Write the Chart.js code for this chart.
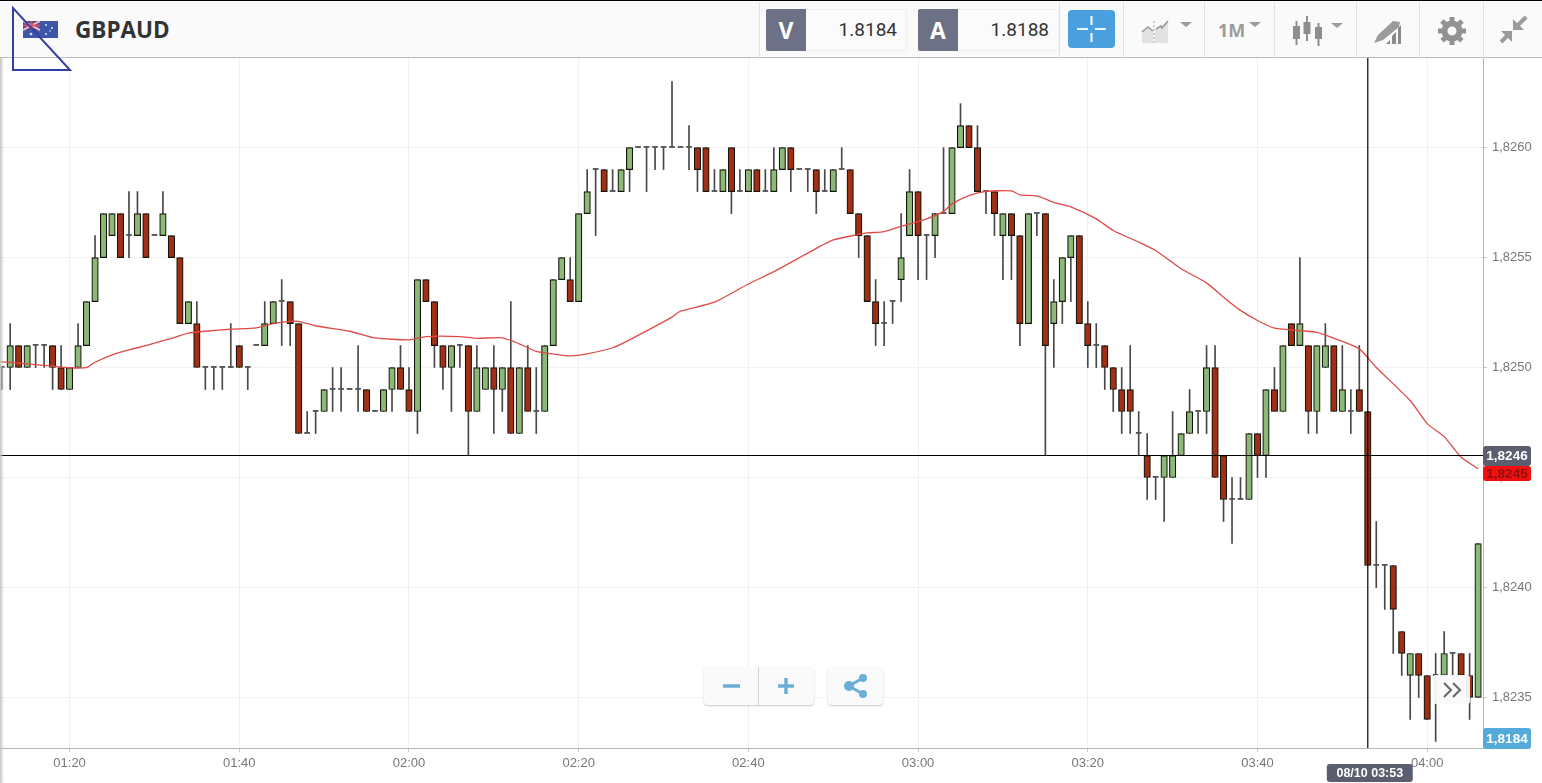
<!DOCTYPE html>
<html>
<head>
<meta charset="utf-8">
<title>GBPAUD</title>
<script src="https://cdn.jsdelivr.net/npm/chart.js@4"></script>
<style>
  html, body { margin: 0; padding: 0; background: #fff; overflow: hidden; }
  #wrap { position: relative; width: 1542px; height: 783px; font-family: Roboto, sans-serif; }
  #chart { position: absolute; left: 0; top: 0; }
  #toolbar { position: absolute; left: 0; top: 0; width: 1542px; background: #fafafa; border-top: 1px solid #000; border-bottom: 1px solid #bcbcbc; box-sizing: content-box; height: 56px; }
  #edge { position: absolute; left: 0; top: 1px; width: 4px; height: 782px; background: linear-gradient(to right, #c4c4c4, rgba(255,255,255,0)); }
  .abs { position: absolute; }
  .sep { position: absolute; top: 1px; width: 1px; height: 56px; background: #e2e2e2; }
  #symbol { left: 75px; top: 13px; font: bold 22.5px "Open Sans", sans-serif; color: #333; }
  .tag { width: 40px; height: 42px; top: 8px; background: #6d7186; color: #fff; font: bold 23px "Open Sans", sans-serif; text-align: center; line-height: 42px; border-radius: 2px 0 0 2px; }
  .quote { width: 100px; height: 40px; top: 8px; background: #fbfbfb; border: 1px solid #efefef; border-left: 0; box-sizing: content-box; color: #333; font: 19px/40px Roboto, sans-serif; text-align: right; }
  .quote span { padding-right: 9px; }
  #cross { left: 1068px; top: 9px; width: 47px; height: 38px; background: #4a9fdf; border-radius: 4px; }
  .tb-txt { color: #9b9b9b; font: bold 18px "Open Sans", sans-serif; }
  .zoom-btn { background: #fafafa; border-radius: 4px; box-shadow: 0 1px 2px rgba(0,0,0,.22); }
  #more { left: 1433px; top: 675px; width: 37px; height: 29px; background: rgba(250,250,250,.95); border-radius: 3px; }
</style>
</head>
<body>
<div id="wrap">
  <canvas id="chart" width="1542" height="783"></canvas>
  <div id="edge"></div>

  <div id="toolbar">
    <div class="sep" style="left:759px"></div>
    <div class="sep" style="left:1059px"></div>
    <div class="sep" style="left:1123px"></div>
    <div class="sep" style="left:1204px"></div>
    <div class="sep" style="left:1274px"></div>
    <div class="sep" style="left:1356px"></div>
    <div class="sep" style="left:1419px"></div>
    <div class="sep" style="left:1483px"></div>

    <svg class="abs" style="left:23px;top:20px" width="35" height="17" viewBox="0 0 35 17">
      <rect width="35" height="17" fill="#3c57a8"/>
      <rect width="17" height="9" fill="#49407e"/>
      <path d="M0 0L17 9M17 0L0 9" stroke="#e8b9c4" stroke-width="2"/>
      <path d="M8.5 0V9M0 4.5H17" stroke="#d8506a" stroke-width="2"/>
      <circle cx="8" cy="13" r="1.3" fill="#dfe4f5"/><circle cx="23" cy="4" r="1" fill="#dfe4f5"/>
      <circle cx="29" cy="7" r="1" fill="#dfe4f5"/><circle cx="23" cy="13" r="1" fill="#dfe4f5"/><circle cx="27" cy="10" r=".8" fill="#dfe4f5"/>
    </svg>
    <div id="symbol" class="abs">GBPAUD</div>

    <div class="abs tag" style="left:766px">V</div>
    <div class="abs quote" style="left:806px"><span>1.8184</span></div>
    <div class="abs tag" style="left:918px">A</div>
    <div class="abs quote" style="left:958px"><span>1.8188</span></div>

    <div id="cross" class="abs">
      <svg width="47" height="38" viewBox="0 0 47 38">
        <path d="M9 19H20M27 19H38M23.5 6V15M23.5 23V32" stroke="#fff" stroke-width="2.2" opacity=".9"/>
      </svg>
    </div>

    <svg class="abs" style="left:1140px;top:14px" width="54" height="30" viewBox="0 0 54 30">
      <path d="M2 28V17L8 12L13 16V28Z" fill="#e2e2e2"/>
      <path d="M15 28V14L21 11L28 6V28Z" fill="#e2e2e2"/>
      <path d="M2 17L8 12L13 16" fill="none" stroke="#9b9b9b" stroke-width="1.6"/>
      <path d="M16 14L21 11L22 13L28 6" fill="none" stroke="#9b9b9b" stroke-width="1.6"/>
      <path d="M14 6V30" stroke="#9b9b9b" stroke-dasharray="2 2"/>
      <path d="M40 7H52L46 12Z" fill="#9b9b9b"/>
    </svg>
    <div class="abs tb-txt" style="left:1218px;top:17px">1M</div>
    <svg class="abs" style="left:1249px;top:20px" width="13" height="8"><path d="M0 1H12L6 6Z" fill="#9b9b9b"/></svg>

    <svg class="abs" style="left:1292px;top:14px" width="52" height="32" viewBox="0 0 52 32">
      <path d="M4.5 6V30M15 1V26M26.5 8V31" stroke="#8e8e8e" stroke-width="2"/>
      <rect x="1" y="11" width="7" height="13" fill="#8e8e8e"/>
      <rect x="11.5" y="7" width="7" height="12" fill="#8e8e8e"/>
      <rect x="23" y="12" width="7" height="12" fill="#8e8e8e"/>
      <path d="M39 8H51L45 13Z" fill="#9b9b9b"/>
    </svg>

    <svg class="abs" style="left:1373px;top:18px" width="29" height="26" viewBox="0 0 29 26">
      <path d="M1 24L5 16L20 2L27 3L26 8L10 21Z" fill="#9b9b9b"/>
      <path d="M13 25L17 21V25ZM19 25V17L23 13V25ZM25 25V9L28 6V25Z" fill="#8a8a8a"/>
    </svg>

    <svg class="abs" style="left:1437px;top:15px" width="30" height="30" viewBox="0 0 30 30">
      <circle cx="15" cy="15" r="7.5" fill="none" stroke="#929292" stroke-width="6"/>
      <path d="M15 1V29M1 15H29M5 5L25 25M25 5L5 25" stroke="#929292" stroke-width="5" stroke-dasharray="5 18"/>
    </svg>

    <svg class="abs" style="left:1499px;top:15px" width="30" height="29" viewBox="0 0 30 29">
      <path d="M14 14V3L25 14Z" fill="#9b9b9b"/>
      <path d="M18 10L27 1" stroke="#9b9b9b" stroke-width="4"/>
      <path d="M13 15H2L13 26Z" fill="#9b9b9b"/>
      <path d="M9 19L2 26" stroke="#9b9b9b" stroke-width="4"/>
    </svg>
  </div>

  <svg class="abs" style="left:0;top:0;pointer-events:none" width="80" height="80">
    <path d="M13 8V70H70Z" fill="none" stroke="#333fa3" stroke-width="2"/>
  </svg>

  <div class="abs zoom-btn" style="left:704px;top:667px;width:110px;height:38px">
    <svg width="110" height="38" viewBox="0 0 110 38">
      <path d="M54.5 0V38" stroke="#d4d4d4"/>
      <path d="M19 19H36M74 19H90M82 11V27" stroke="#6aaed6" stroke-width="3.4"/>
    </svg>
  </div>
  <div class="abs zoom-btn" style="left:828px;top:667px;width:55px;height:38px">
    <svg width="55" height="38" viewBox="0 0 55 38">
      <path d="M35 11L21 19L35 27" fill="none" stroke="#6aaed6" stroke-width="3"/>
      <circle cx="21" cy="19" r="5" fill="#6aaed6"/><circle cx="35" cy="11" r="4" fill="#6aaed6"/><circle cx="35" cy="27" r="4" fill="#6aaed6"/>
    </svg>
  </div>
  <div id="more" class="abs">
    <svg width="37" height="29" viewBox="0 0 37 29">
      <path d="M11 8L18 15L11 22M20 8L27 15L20 22" fill="none" stroke="#666" stroke-width="2"/>
    </svg>
  </div>
</div>

<script>
// one candle per minute, first one is 01:12 (minute 72 of the day)
// prices are the last four digits, 8250 means 1,8250
const firstMinute = 72;

const opens = [
  8250,8250,8251,8250,8251,8251,8251,8250,8249,8250,
  8251,8253,8255,8256,8257,8256,8256,8257,8256,8256,
  8256,8255,8252,8252,8250,8250,8250,8250,8251,8250,
  8251,8251,8252,8253,8253,8252,8247,8248,8248,8249,
  8249,8249,8249,8249,8248,8248,8249,8250,8249,8248,
  8254,8253,8251,8250,8251,8251,8248,8249,8250,8249,
  8250,8247,8250,8248,8248,8251,8254,8254,8253,8257,
  8259,8259,8258,8258,8259,8260,8260,8260,8260,8260,
  8260,8260,8260,8260,8258,8258,8260,8258,8258,8259,
  8258,8258,8259,8260,8259,8259,8259,8258,8258,8259,
  8259,8257,8256,8253,8252,8253,8254,8256,8258,8256,
  8256,8257,8257,8260,8261,8260,8258,8258,8256,8257,
  8256,8252,8257,8257,8252,8253,8255,8256,8252,8251,
  8251,8250,8249,8249,8247,8246,8245,8245,8245,8246,
  8247,8248,8248,8250,8246,8244,8244,8244,8247,8246,
  8249,8248,8252,8251,8251,8248,8250,8251,8248,8248,
  8249,8248,8241,8241,8241,8238,8236,8237,8236,8236,
  8236,8237,8237,8236,8235
];
const highs = [
  8250,8252,8251,8251,8251,8251,8251,8251,8250,8252,
  8253,8256,8257,8257,8257,8258,8258,8257,8256,8258,
  8256,8255,8253,8253,8250,8250,8250,8252,8251,8250,
  8251,8253,8253,8254,8253,8252,8248,8248,8249,8250,
  8250,8249,8251,8249,8248,8249,8250,8251,8250,8254,
  8254,8253,8251,8251,8251,8251,8251,8250,8251,8250,
  8253,8250,8251,8250,8251,8254,8255,8255,8257,8259,
  8259,8259,8259,8259,8260,8260,8260,8260,8260,8263,
  8260,8261,8260,8260,8259,8259,8260,8259,8259,8259,
  8259,8260,8260,8260,8259,8259,8259,8259,8259,8260,
  8259,8257,8256,8254,8253,8253,8257,8259,8258,8256,
  8257,8260,8260,8262,8261,8261,8258,8258,8257,8257,
  8256,8257,8257,8257,8254,8255,8256,8256,8253,8252,
  8251,8250,8250,8251,8248,8247,8245,8246,8248,8247,
  8249,8248,8251,8251,8246,8245,8245,8247,8247,8249,
  8250,8251,8252,8255,8251,8251,8252,8251,8251,8249,
  8251,8248,8243,8241,8241,8238,8237,8237,8236,8237,
  8238,8237,8237,8237,8242
];
const lows = [
  8249,8249,8250,8250,8250,8250,8249,8249,8249,8250,
  8251,8253,8255,8256,8255,8255,8256,8255,8256,8256,
  8255,8252,8252,8250,8249,8249,8249,8250,8250,8249,
  8251,8251,8252,8251,8251,8247,8247,8247,8248,8248,
  8248,8249,8248,8248,8248,8248,8248,8249,8248,8247,
  8253,8250,8249,8248,8250,8246,8248,8249,8247,8248,
  8247,8247,8248,8247,8248,8251,8254,8253,8253,8257,
  8256,8258,8258,8258,8258,8260,8258,8259,8259,8260,
  8260,8259,8258,8258,8258,8258,8257,8258,8258,8258,
  8258,8258,8259,8258,8259,8258,8257,8258,8258,8259,
  8257,8255,8253,8251,8251,8252,8253,8256,8254,8254,
  8255,8257,8257,8260,8260,8258,8257,8256,8254,8254,
  8251,8252,8256,8246,8250,8252,8253,8252,8250,8250,
  8249,8248,8247,8247,8246,8244,8244,8243,8245,8246,
  8247,8247,8247,8245,8243,8242,8244,8244,8245,8245,
  8248,8248,8251,8251,8247,8247,8250,8248,8248,8247,
  8248,8241,8240,8239,8237,8236,8234,8235,8234,8233,
  8236,8236,8236,8234,8235
];
const closes = [
  8250,8251,8250,8251,8251,8251,8250,8249,8250,8251,
  8253,8255,8257,8257,8255,8256,8257,8255,8256,8257,
  8255,8252,8253,8250,8250,8250,8250,8250,8250,8250,
  8251,8252,8253,8253,8252,8247,8247,8248,8249,8249,
  8249,8249,8249,8248,8248,8249,8250,8249,8248,8254,
  8253,8251,8250,8251,8251,8248,8250,8250,8249,8250,
  8247,8250,8248,8248,8251,8254,8255,8253,8257,8258,
  8259,8258,8258,8259,8260,8260,8260,8260,8260,8260,
  8260,8260,8259,8258,8258,8259,8258,8258,8259,8258,
  8258,8259,8260,8259,8259,8259,8258,8258,8259,8259,
  8257,8256,8253,8252,8252,8253,8255,8258,8256,8256,
  8257,8257,8260,8261,8260,8258,8258,8257,8257,8256,
  8252,8257,8257,8251,8253,8255,8256,8252,8251,8251,
  8250,8249,8248,8248,8247,8245,8245,8246,8246,8247,
  8248,8248,8250,8245,8244,8244,8244,8247,8246,8249,
  8248,8251,8251,8252,8248,8251,8251,8248,8249,8248,
  8248,8241,8241,8241,8239,8237,8237,8236,8234,8236,
  8237,8237,8236,8235,8242
];

// moving average at these candles
const maCandles = [
  -1,2,6,8,10,11,13,15,17,20,22,24,27,30,32,34,35,37,41,44,
  48,50,54,56,59,61,63,65,67,69,72,74,79,80,84,88,91,95,98,101,
  102,104,106,109,111,112,114,116,119,120,122,124,126,129,131,134,136,139,142,144,
  146,148,150,152,155,157,160,162,166,168,170,172,174
];
const maValues = [
  8250.3,8250.2,8250.06,8249.99,8250,8250.24,8250.58,8250.8,8251,8251.33,8251.56,8251.65,8251.74,8251.8,8252,8252.1,8252.1,8251.9,8251.65,8251.35,
  8251.26,8251.41,8251.41,8251.33,8251.35,8251.08,8250.73,8250.62,8250.53,8250.62,8250.9,8251.26,8252.29,8252.56,8252.97,8253.8,8254.36,8255.2,8255.8,8256.05,
  8256.12,8256.18,8256.42,8256.76,8257.1,8257.44,8257.82,8258.01,8258.03,8257.85,8257.8,8257.51,8257.3,8256.76,8256.23,8255.7,8255.32,8254.49,8253.85,8253.2,
  8252.6,8252.14,8251.79,8251.71,8251.6,8251.33,8250.85,8250,8248.5,8247.45,8246.86,8245.92,8245.4
];

const yTicks = [8235, 8240, 8245, 8250, 8255, 8260];
const xTicks = [80, 100, 120, 140, 160, 180, 200, 220, 240];

// crosshair and the labels on the axes
const crossPrice = 8246;
const crossMinute = 233;
const crossLabel = '08/10 03:53';
const lastPrice = 8245;
const bidLabel = '1,8184';

const priceLabel = v => '1,' + v;
const minuteLabel = m => String(Math.floor(m / 60)).padStart(2, '0') + ':' + String(m % 60).padStart(2, '0');

const wickData = [];
const bodyData = [];
const bodyColors = [];
const dojiData = [];
opens.forEach((o, i) => {
  const c = closes[i];
  const t = firstMinute + i;
  wickData.push({ x: t, y: [lows[i], highs[i]] });
  if (o === c) {
    dojiData.push({ x: t, y: [o, o] });
  } else {
    bodyData.push({ x: t, y: [Math.min(o, c), Math.max(o, c)] });
    bodyColors.push(c > o ? '#8cb878' : '#a32e16');
  }
});

const maData = maCandles.map((c, i) => ({ x: firstMinute + c, y: maValues[i] }));

const X_MIN = firstMinute - 1.7 / 8.485;
const X_MAX = firstMinute + 1481.3 / 8.485;
const Y_MAX = 8264.073;
const Y_MIN = 8232.703;

// badges that sit on the axes
const axisBadges = {
  id: 'axisBadges',
  afterDraw(chart) {
    const ctx = chart.ctx;
    const y = chart.scales.y;
    const x = chart.scales.x;
    const area = chart.chartArea;

    function badge(left, top, w, h, fill, text, color, font) {
      ctx.fillStyle = fill;
      ctx.beginPath();
      ctx.roundRect(left, top, w, h, 3);
      ctx.fill();
      ctx.fillStyle = color;
      ctx.font = font;
      ctx.textAlign = 'center';
      ctx.textBaseline = 'middle';
      ctx.fillText(text, left + w / 2, top + h / 2 + 0.5);
    }

    ctx.save();
    const right = area.right;
    const bold = 'bold 13.5px "Liberation Sans", Arial, sans-serif';
    badge(right, y.getPixelForValue(crossPrice) - 9.5, 48, 20, '#5b5e6e', priceLabel(crossPrice), '#fff', bold);
    badge(right, y.getPixelForValue(lastPrice) - 11.5, 48, 15, '#f40f0f', priceLabel(lastPrice), '#8a1212', bold);
    badge(right, area.bottom - 20, 48, 21, '#54aad8', bidLabel, '#fff', bold);
    badge(x.getPixelForValue(crossMinute) - 41, area.bottom + 16, 86, 18, '#5b5e6e', crossLabel, '#fff', 'bold 12.5px "Liberation Sans", Arial, sans-serif');
    ctx.restore();
  }
};

new Chart(document.getElementById('chart'), {
  type: 'bar',
  data: {
    datasets: [
      {
        label: 'crosshair price', type: 'line', order: 1,
        data: [{ x: X_MIN, y: crossPrice }, { x: X_MAX, y: crossPrice }],
        borderColor: '#000', borderWidth: 1.1, pointRadius: 0
      },
      {
        label: 'crosshair time', type: 'line', order: 1,
        data: [{ x: crossMinute, y: Y_MIN }, { x: crossMinute, y: Y_MAX }],
        borderColor: '#000', borderWidth: 1.2, pointRadius: 0
      },
      {
        label: 'MA', type: 'line', order: 2,
        data: maData,
        borderColor: '#de4b47', borderWidth: 1.3, pointRadius: 0, tension: 0.2
      },
      {
        label: 'bodies', order: 3, grouped: false,
        data: bodyData,
        backgroundColor: bodyColors,
        borderColor: '#14160a', borderWidth: 1.2, borderSkipped: false, barThickness: 6.5
      },
      {
        label: 'doji', order: 4, grouped: false,
        data: dojiData,
        backgroundColor: '#555', borderWidth: 0, barThickness: 5, minBarLength: 1.2
      },
      {
        label: 'wicks', order: 5, grouped: false,
        data: wickData,
        backgroundColor: '#484848', borderWidth: 0, barThickness: 1
      }
    ]
  },
  options: {
    responsive: false,
    animation: false,
    layout: { padding: { top: 58, left: 0, right: 0, bottom: 0 } },
    plugins: { legend: { display: false }, tooltip: { enabled: false } },
    scales: {
      x: {
        type: 'linear', offset: false, min: X_MIN, max: X_MAX,
        afterFit(scale) { scale.height = 35; },
        afterBuildTicks(scale) { scale.ticks = xTicks.map(v => ({ value: v })); },
        grid: { color: '#f1f1f1', offset: false, tickColor: '#c8c8c8', tickLength: 4 },
        border: { color: '#b5b5b5' },
        ticks: {
          autoSkip: false, maxRotation: 0, padding: 4, color: '#777',
          font: { family: '"Liberation Sans", Arial, sans-serif', size: 13 },
          callback: v => minuteLabel(v)
        }
      },
      y: {
        position: 'right', min: Y_MIN, max: Y_MAX,
        afterFit(scale) { scale.width = 59; },
        afterBuildTicks(scale) { scale.ticks = yTicks.map(v => ({ value: v })); },
        grid: { color: '#f1f1f1', tickColor: '#c8c8c8', tickLength: 4 },
        border: { color: '#b5b5b5' },
        ticks: {
          padding: 5, color: '#777',
          font: { family: '"Liberation Sans", Arial, sans-serif', size: 13 },
          callback: v => priceLabel(v)
        }
      }
    }
  },
  plugins: [axisBadges]
});
</script>
</body>
</html>
